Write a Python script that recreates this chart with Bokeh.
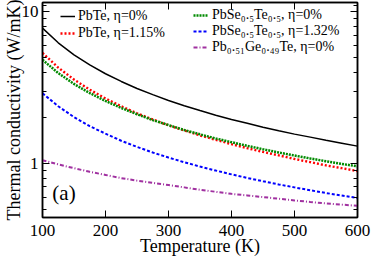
from bokeh.plotting import figure
from bokeh.models import (FixedTicker, LinearAxis, LogAxis, Legend, LegendItem,
                          Label, Range1d)
from bokeh.embed import file_html
from bokeh.resources import INLINE

temperature = [100, 125, 150, 175, 200, 225, 250, 275, 300, 325, 350,
               375, 400, 425, 450, 475, 500, 525, 550, 575, 600]
k_pbte_0 = [7.80, 6.24, 5.20, 4.46, 3.90, 3.47, 3.12, 2.84, 2.60, 2.40, 2.23,
            2.08, 1.95, 1.84, 1.73, 1.64, 1.56, 1.49, 1.42, 1.36, 1.30]
k_pbte_115 = [5.35, 4.28, 3.57, 3.06, 2.68, 2.38, 2.14, 1.95, 1.78, 1.65, 1.53,
              1.43, 1.34, 1.26, 1.19, 1.13, 1.07, 1.02, 0.97, 0.93, 0.89]
k_pbsete_0 = [4.82, 3.94, 3.34, 2.91, 2.58, 2.32, 2.11, 1.93, 1.79, 1.66, 1.555,
              1.46, 1.38, 1.305, 1.24, 1.18, 1.127, 1.078, 1.034, 0.993, 0.956]
k_pbsete_132 = [2.90, 2.38, 2.02, 1.76, 1.57, 1.41, 1.285, 1.18, 1.093, 1.018, 0.953,
                0.897, 0.847, 0.802, 0.763, 0.727, 0.695, 0.665, 0.638, 0.614, 0.591]
k_pbgete_0 = [1.05, 0.985, 0.93, 0.88, 0.84, 0.80, 0.77, 0.745, 0.72, 0.695, 0.67,
              0.65, 0.63, 0.615, 0.60, 0.585, 0.57, 0.557, 0.545, 0.535, 0.525]

x_ticks = [100, 200, 300, 400, 500, 600]
y_ticks = [1, 10]
y_minor = [0.5, 0.6, 0.7, 0.8, 0.9, 2, 3, 4, 5, 6, 7, 8, 9, 11]

labels = ["PbTe, η=0%", "PbTe, η=1.15%", "PbSe₀.₅Te₀.₅, η=0%",
          "PbSe₀.₅Te₀.₅, η=1.32%", "Pb₀.₅₁Ge₀.₄₉Te, η=0%"]

FONT = "'Liberation Serif', 'Times New Roman', serif"

p = figure(width=374, height=258, y_axis_type="log",
           x_range=Range1d(100, 600), y_range=Range1d(0.44, 11.5),
           output_backend="svg", toolbar_location=None,
           min_border=0, min_border_left=37, min_border_right=17,
           min_border_top=2, min_border_bottom=38)
p.styles = {"position": "absolute", "left": "0px", "top": "0px"}
p.xgrid.visible = False
p.ygrid.visible = False
p.outline_line_color = "black"
p.outline_line_width = 1.5
p.background_fill_color = "white"
p.border_fill_color = "white"

xt = FixedTicker(ticks=x_ticks, minor_ticks=[])
yt = FixedTicker(ticks=y_ticks, minor_ticks=y_minor)

def style_axis(ax, show_labels):
    ax.major_tick_in = 7
    ax.major_tick_out = 0
    ax.minor_tick_in = 4
    ax.minor_tick_out = 0
    ax.axis_line_color = "black"
    ax.axis_line_width = 1.5
    ax.major_tick_line_color = "black"
    ax.minor_tick_line_color = "black"
    ax.major_tick_line_width = 1
    ax.minor_tick_line_width = 1
    ax.major_label_text_font = FONT
    ax.major_label_text_color = "black"
    if show_labels:
        ax.major_label_text_font_size = "17px"
        ax.axis_label_text_font = FONT
        ax.axis_label_text_font_size = "18px"
        ax.axis_label_text_font_style = "normal"
        ax.axis_label_text_color = "black"
    else:
        ax.major_label_text_font_size = "1px"
        ax.major_label_text_alpha = 0
        ax.major_label_standoff = 0

p.xaxis.ticker = xt
p.yaxis.ticker = yt
p.yaxis.major_label_overrides = {1: "1", 10: "10"}
p.xaxis.axis_label = "Temperature (K)"
p.yaxis.axis_label = "Thermal conductivity (W/mK)"
style_axis(p.xaxis[0], True)
style_axis(p.yaxis[0], True)
p.xaxis.major_label_standoff = 7
p.xaxis.axis_label_standoff = -3
p.yaxis.major_label_standoff = 4
p.yaxis.axis_label_standoff = -5

top = LinearAxis(ticker=xt)
style_axis(top, False)
p.add_layout(top, "above")
right = LogAxis(ticker=yt)
style_axis(right, False)
p.add_layout(right, "right")

r1 = p.line(temperature, k_pbte_0, line_color="black", line_width=1.5)
r2 = p.line(temperature, k_pbte_115, line_color="#ff0000", line_width=2.4,
            line_dash="2 2")
r3 = p.line(temperature, k_pbsete_0, line_color="#008a00", line_width=2.5,
            line_dash="2 1")
r4 = p.line(temperature, k_pbsete_132, line_color="#0000ff", line_width=2,
            line_dash="3 2")
r5 = p.line(temperature, k_pbgete_0, line_color="#a030a0", line_width=2,
            line_dash="4 2 1 2")

def make_legend(items, loc, font_size, row_h, gw, standoff, spacing):
    leg = Legend(items=items, location=loc)
    leg.border_line_color = None
    leg.background_fill_alpha = 0
    leg.padding = 0
    leg.margin = 0
    leg.spacing = spacing
    leg.label_standoff = standoff
    leg.glyph_width = gw
    leg.glyph_height = row_h
    leg.label_height = row_h
    leg.label_text_font = FONT
    leg.label_text_font_size = font_size
    leg.label_text_color = "black"
    return leg

leg1 = make_legend([LegendItem(label=labels[0], renderers=[r1]),
                    LegendItem(label=labels[1], renderers=[r2])],
                   (18, 176), "14px", 16, 15, 3, 1)
leg2 = make_legend([LegendItem(label=labels[2], renderers=[r3]),
                    LegendItem(label=labels[3], renderers=[r4]),
                    LegendItem(label=labels[4], renderers=[r5])],
                   (151, 162), "14px", 16, 15, 4, 0)
p.add_layout(leg1)
p.add_layout(leg2)

p.add_layout(Label(x=115.6, y=0.64, text="(a)", text_font=FONT,
                   text_font_size="21px", text_color="black",
                   text_baseline="alphabetic"))

open("out.html", "w").write(file_html(p, INLINE))
